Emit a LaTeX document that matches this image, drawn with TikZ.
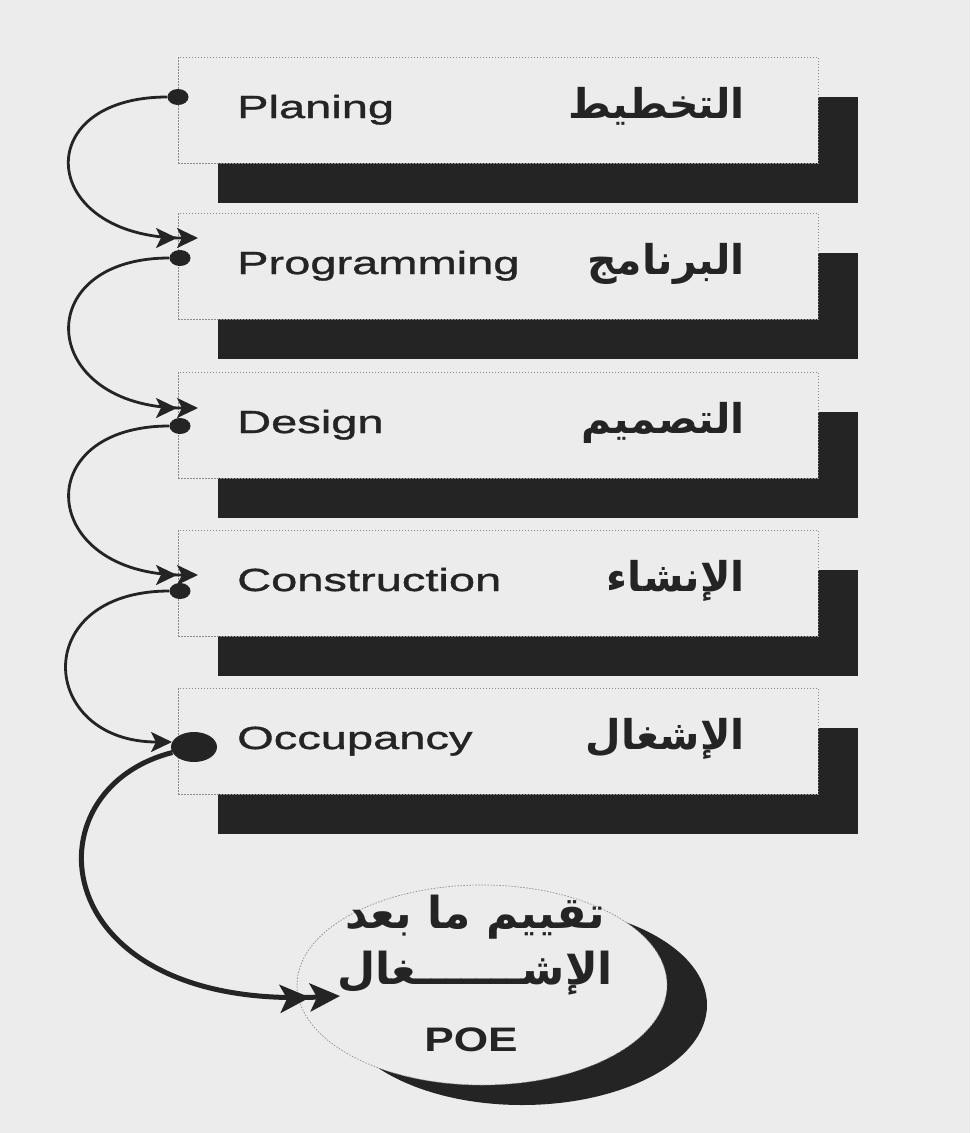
\documentclass[tikz,border=0pt]{standalone}
\usepackage{fontspec}
\setmainfont{Liberation Sans}
\newfontfamily\widefont[FakeStretch=1.47,FakeBold=1.2]{Liberation Sans}
\newfontfamily\widebold[FakeStretch=1.3]{Liberation Sans Bold}
\newfontfamily\arabicfont[Script=Arabic]{DejaVu Sans}
\TeXXeTstate=1
\usetikzlibrary{arrows.meta,shapes.geometric}
\definecolor{bg}{RGB}{237,236,236}
\definecolor{ink}{RGB}{36,36,36}
\definecolor{edge}{RGB}{140,140,140}
\newcommand\mystage[4]{%
  \fill[ink] (218,#2+40) rectangle (858,#2+146);
  \node[stagebox] (b#1) at (178,#2) {};
  \node[lbl] (en#1) at (237,#2+61) {#3};
  \node[arlbl] (ar#1) at (745,#2+61) {\beginR #4\endR};
}
\begin{document}
\begin{tikzpicture}[x=1pt,y=-1pt,
  stagebox/.style={rectangle, anchor=north west, minimum width=640pt, minimum height=106pt,
    inner sep=0, fill=bg, draw=edge, line width=0.7pt, dash pattern=on 1.5pt off 1.5pt},
  lbl/.style={anchor=base west, inner sep=0, text=ink, font=\widefont\fontsize{32}{36}\selectfont},
  arlbl/.style={anchor=base east, inner sep=0, text=ink, font=\arabicfont\bfseries\fontsize{41}{45}\selectfont},
  dotnode/.style={ellipse, fill=ink, minimum width=21pt, minimum height=16pt, inner sep=0},
  conn/.style={draw=ink, line width=2.8pt,
    -{Stealth[length=21pt,width=20pt,inset=5pt] Stealth[length=21pt,width=20pt,inset=5pt]}},
  conn single/.style={draw=ink, line width=2.8pt, -{Stealth[length=21pt,width=20pt,inset=5pt]}},
  poetext/.style={inner sep=0, text=ink, font=\arabicfont\bfseries\fontsize{44}{48}\selectfont},
]
\fill[bg] (0,0) rectangle (970,1133);
\useasboundingbox (0,0) rectangle (970,1133);

\mystage{1}{57}{Planing}{التخطيط}
\mystage{2}{213}{Programming}{البرنامج}
\mystage{3}{372}{Design}{التصميم}
\mystage{4}{530}{Construction}{الإنشاء}
\mystage{5}{688}{Occupancy}{الإشغال}

% evaluation ellipse
\fill[ink] (522,1005) ellipse [x radius=185, y radius=100];
\node[ellipse, minimum width=370pt, minimum height=200pt, inner sep=0, fill=bg,
  draw=edge, line width=0.7pt, dash pattern=on 1.5pt off 1.5pt] (poe) at (482,985) {};
\node[poetext] (poe1) at (475,917) {\beginR تقييم ما بعد\endR};
\node[poetext] (poe2) at (475,973) {\beginR الإشـــــــغال\endR};
\node[inner sep=0, text=ink, font=\widebold\fontsize{34}{38}\selectfont] (poe3) at (471,1040) {POE};

% dots and arrow ends
\node[dotnode] (d1) at (178,97) {};
\node[dotnode] (d2) at (180,258) {};
\node[dotnode] (d3) at (180,426) {};
\node[dotnode] (d4) at (180,591) {};
\node[dotnode, minimum width=46pt, minimum height=30pt] (d5) at (194,747) {};
\coordinate (e2) at (198,238);
\coordinate (e3) at (198,408);
\coordinate (e4) at (198,575);
\coordinate (e5) at (172,742);
\coordinate (e6) at (340,996);

\draw[conn] (d1) .. controls (28,97) and (38,238) .. (e2);
\draw[conn] (d2) .. controls (28,258) and (38,408) .. (e3);
\draw[conn] (d3) .. controls (28,426) and (38,575) .. (e4);
\draw[conn single] (d4) .. controls (28,591) and (38,742) .. (e5);
\draw[draw=ink, line width=5pt,
  -{Stealth[length=30pt,width=28pt,inset=7pt] Stealth[length=30pt,width=28pt,inset=7pt]}]
  (d5) .. controls (25,790) and (45,1010) .. (e6);
\end{tikzpicture}
\end{document}
